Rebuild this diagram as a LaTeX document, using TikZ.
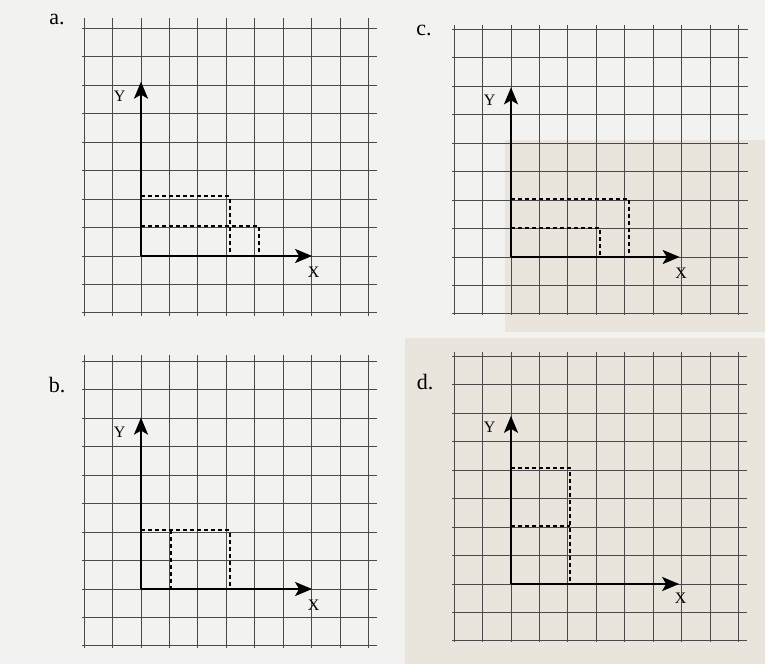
\documentclass[tikz,border=0pt]{standalone}
\usepackage{fontspec}
\setmainfont{Liberation Serif}
\usetikzlibrary{arrows.meta}
\definecolor{paper}{HTML}{F2F2F0}
\definecolor{beige}{HTML}{EAE5DC}
\definecolor{gridc}{HTML}{4A4A4A}
\tikzset{
  gridline/.style={draw=gridc, line width=0.9pt},
  axisline/.style={draw=black, line width=2.4pt, -{Stealth[length=17pt,width=14pt,inset=4pt]}},
  dashline/.style={draw=black, line width=2pt, dash pattern=on 4pt off 3pt},
  panellabel/.style={font=\fontsize{22}{24}\selectfont, inner sep=0pt},
  axislabel/.style={font=\fontsize{16}{18}\selectfont, inner sep=0pt}
}
\begin{document}
\begin{tikzpicture}[x=1pt,y=1pt]
\useasboundingbox (0,0) rectangle (765,664);
\fill[paper] (0,0) rectangle (765,664);
% beige tint (photo) on right-hand panels
\fill[beige] (505,664-140) rectangle (765,664-332);
\fill[beige] (405,0) rectangle (765,664-338);
% panel labels
\node[panellabel] (la) at (57,664-20) {a.};
\node[panellabel] (lc) at (424,664-30) {c.};
\node[panellabel] (lb) at (57,664-385) {b.};
\node[panellabel] (ld) at (425,664-382) {d.};
% ---------- a ----------
\begin{scope}[shift={(141pt,408pt)}, x=29.5pt, y=29.8pt]
  \draw[gridline] (-2,-2) grid (8,8);
  \draw[dashline] (0,2) -- (3,2) -- (3,0);
  \draw[dashline] (0,1) -- (4,1) -- (4,0);
  \coordinate (ao) at (0,0);
  \coordinate (ay) at (0,5.85);
  \coordinate (ax) at (5.8,0);
  \draw[axisline] (ao) -- (ay);
  \draw[axisline] (ao) -- (ax);
  \node[axislabel] (aY) at (-0.72,5.35) {Y};
  \node[axislabel] (aX) at (5.85,-0.55) {X};
\end{scope}
% ---------- c ----------
\begin{scope}[shift={(511pt,407pt)}, x=29.6pt, y=29pt]
  \draw[gridline] (-2,-2) grid (8,8);
  \draw[dashline] (0,2) -- (4,2) -- (4,0);
  \draw[dashline] (0,1) -- (3,1) -- (3,0);
  \coordinate (co) at (0,0);
  \coordinate (cy) at (0,5.85);
  \coordinate (cx) at (5.7,0);
  \draw[axisline] (co) -- (cy);
  \draw[axisline] (co) -- (cx);
  \node[axislabel] (cY) at (-0.72,5.4) {Y};
  \node[axislabel] (cX) at (5.75,-0.55) {X};
\end{scope}
% ---------- b ----------
\begin{scope}[shift={(141pt,75pt)}, x=29.5pt, y=29.3pt]
  \draw[gridline] (-2,-2) grid (8,8);
  \draw[dashline] (0,2) -- (3,2) -- (3,0);
  \draw[dashline] (1,2) -- (1,0);
  \coordinate (bo) at (0,0);
  \coordinate (by) at (0,5.85);
  \coordinate (bx) at (5.8,0);
  \draw[axisline] (bo) -- (by);
  \draw[axisline] (bo) -- (bx);
  \node[axislabel] (bY) at (-0.72,5.35) {Y};
  \node[axislabel] (bX) at (5.85,-0.55) {X};
\end{scope}
% ---------- d ----------
\begin{scope}[shift={(511pt,80pt)}, x=29.5pt, y=29pt]
  \draw[gridline] (-2,-2) grid (8,8);
  \draw[dashline] (0,4) -- (2,4) -- (2,0);
  \draw[dashline] (0,2) -- (2,2);
  \coordinate (do) at (0,0);
  \coordinate (dy) at (0,5.8);
  \coordinate (dx) at (5.7,0);
  \draw[axisline] (do) -- (dy);
  \draw[axisline] (do) -- (dx);
  \node[axislabel] (dY) at (-0.72,5.4) {Y};
  \node[axislabel] (dX) at (5.75,-0.5) {X};
\end{scope}
\end{tikzpicture}
\end{document}
